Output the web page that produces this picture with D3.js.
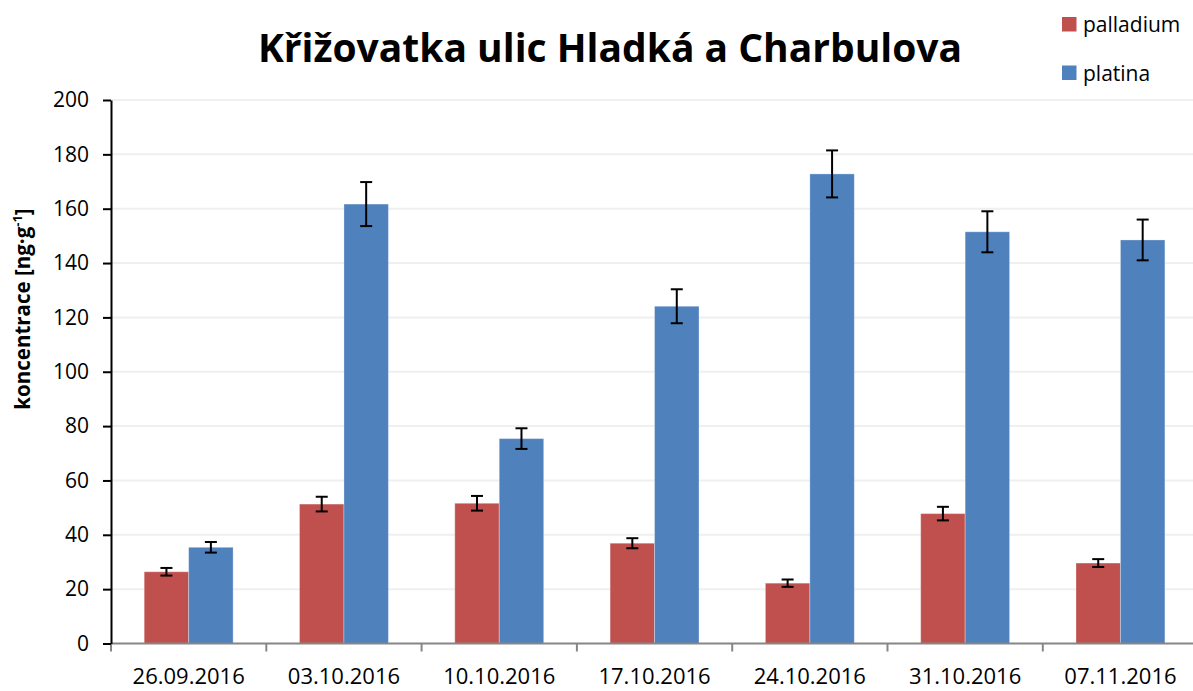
<!DOCTYPE html>
<html>
<head>
<meta charset="utf-8">
<script src="https://cdn.jsdelivr.net/npm/d3@7"></script>
<style>
  html, body { margin: 0; padding: 0; background: #fff; }
  svg { display: block; font-family: "Open Sans", "Noto Sans", sans-serif; }
</style>
</head>
<body>
<svg id="chart" width="1193" height="691"></svg>
<script>
// Sampling dates
const dates = ["26.09.2016", "03.10.2016", "10.10.2016", "17.10.2016", "24.10.2016", "31.10.2016", "07.11.2016"];
const seriesNames = ["palladium", "platina"];
// Mean concentrations [ng·g⁻¹]
const palladium = [26.4, 51.3, 51.6, 36.9, 22.2, 47.8, 29.6];
const platina = [35.4, 161.7, 75.4, 124.1, 172.8, 151.5, 148.5];
// Error bar half-widths
const palladiumErr = [1.4, 2.7, 2.7, 1.85, 1.35, 2.5, 1.45];
const platinaErr = [1.95, 8.1, 3.8, 6.25, 8.65, 7.55, 7.5];
const yTicks = [0, 20, 40, 60, 80, 100, 120, 140, 160, 180, 200];

const colors = { palladium: "#C0504D", platina: "#4F81BD" };

const svg = d3.select("#chart");
const plotLeft = 111, plotTop = 100, plotBottom = 643.5, step = 155.3;

const x0 = d3.scaleBand().domain(dates).range([plotLeft, plotLeft + step * dates.length]).padding(0);
const x1 = d3.scaleBand().domain(seriesNames).range([33.2, step - 33.2]).padding(0);
const y = d3.scaleLinear().domain([0, 200]).range([plotBottom, plotTop]);

// Horizontal gridlines
svg.append("g")
  .selectAll("line")
  .data(yTicks.filter(d => d > 0))
  .join("line")
  .attr("x1", plotLeft).attr("x2", 1193)
  .attr("y1", d => y(d)).attr("y2", d => y(d))
  .attr("stroke", "#efefef").attr("stroke-width", 2);

// Title
svg.append("text")
  .attr("x", 610).attr("y", 62)
  .attr("text-anchor", "middle")
  .attr("font-size", 39).attr("font-weight", "bold")
  .attr("fill", "#000")
  .text("Křižovatka ulic Hladká a Charbulova");

// Bars
const rows = dates.map((d, i) => ({
  date: d,
  values: [
    { key: "palladium", v: palladium[i], e: palladiumErr[i] },
    { key: "platina", v: platina[i], e: platinaErr[i] }
  ]
}));

const groups = svg.append("g")
  .selectAll("g")
  .data(rows)
  .join("g")
  .attr("transform", d => `translate(${x0(d.date)},0)`);

groups.selectAll("rect")
  .data(d => d.values)
  .join("rect")
  .attr("x", d => x1(d.key))
  .attr("width", x1.bandwidth())
  .attr("y", d => y(d.v))
  .attr("height", d => y(0) - y(d.v))
  .attr("fill", d => colors[d.key])
  .attr("stroke", "rgba(255,255,255,0.3)")
  .attr("stroke-width", 1);

// Error bars
const eb = groups.selectAll("g.err")
  .data(d => d.values)
  .join("g")
  .attr("class", "err")
  .attr("stroke", "#000")
  .attr("stroke-width", 2);
const cx = d => x1(d.key) + x1.bandwidth() / 2;
eb.append("line")
  .attr("x1", cx).attr("x2", cx)
  .attr("y1", d => y(d.v + d.e)).attr("y2", d => y(d.v - d.e));
eb.append("line")
  .attr("x1", d => cx(d) - 6).attr("x2", d => cx(d) + 6)
  .attr("y1", d => y(d.v + d.e)).attr("y2", d => y(d.v + d.e));
eb.append("line")
  .attr("x1", d => cx(d) - 6).attr("x2", d => cx(d) + 6)
  .attr("y1", d => y(d.v - d.e)).attr("y2", d => y(d.v - d.e));

// X axis (category boundaries as ticks)
const xAxisG = svg.append("g");
xAxisG.append("line")
  .attr("x1", plotLeft).attr("x2", 1193)
  .attr("y1", plotBottom).attr("y2", plotBottom)
  .attr("stroke", "#868686").attr("stroke-width", 2);
xAxisG.selectAll("line.tick")
  .data(dates)
  .join("line")
  .attr("class", "tick")
  .attr("x1", d => x0(d)).attr("x2", d => x0(d))
  .attr("y1", plotBottom).attr("y2", plotBottom + 8)
  .attr("stroke", "#868686").attr("stroke-width", 2);
xAxisG.selectAll("text")
  .data(dates)
  .join("text")
  .attr("x", d => x0(d) + x0.bandwidth() / 2)
  .attr("y", 684)
  .attr("text-anchor", "middle")
  .attr("font-size", 22)
  .attr("fill", "#000")
  .text(d => d);

// Y axis
const yAxis = d3.axisLeft(y).tickValues(yTicks).tickSize(8).tickPadding(14).tickSizeOuter(0);
const yAxisG = svg.append("g")
  .attr("transform", `translate(${plotLeft},0)`)
  .call(yAxis);
yAxisG.select(".domain").attr("stroke", "#000").attr("stroke-width", 2);
yAxisG.selectAll(".tick line").attr("stroke", "#000").attr("stroke-width", 2);
yAxisG.selectAll(".tick text")
  .attr("font-size", 21)
  .attr("font-family", "'Open Sans', sans-serif")
  .attr("fill", "#000");

// Y axis title
const yTitle = svg.append("text")
  .attr("transform", "translate(30,309) rotate(-90)")
  .attr("text-anchor", "middle")
  .attr("font-size", 20.5).attr("font-weight", "bold")
  .attr("fill", "#000");
yTitle.append("tspan").text("koncentrace [ng·g");
yTitle.append("tspan").attr("dy", -8).attr("font-size", 13).text("-1");
yTitle.append("tspan").attr("dy", 8).text("]");

// Legend
const legend = svg.append("g")
  .selectAll("g")
  .data(seriesNames)
  .join("g")
  .attr("transform", (d, i) => `translate(1062,${17 + i * 48.5})`);
legend.append("rect")
  .attr("width", 14.5).attr("height", 14.5)
  .attr("fill", d => colors[d]);
legend.append("text")
  .attr("x", 21).attr("y", 15)
  .attr("font-size", 21)
  .attr("fill", "#000")
  .text(d => d);
</script>
</body>
</html>
